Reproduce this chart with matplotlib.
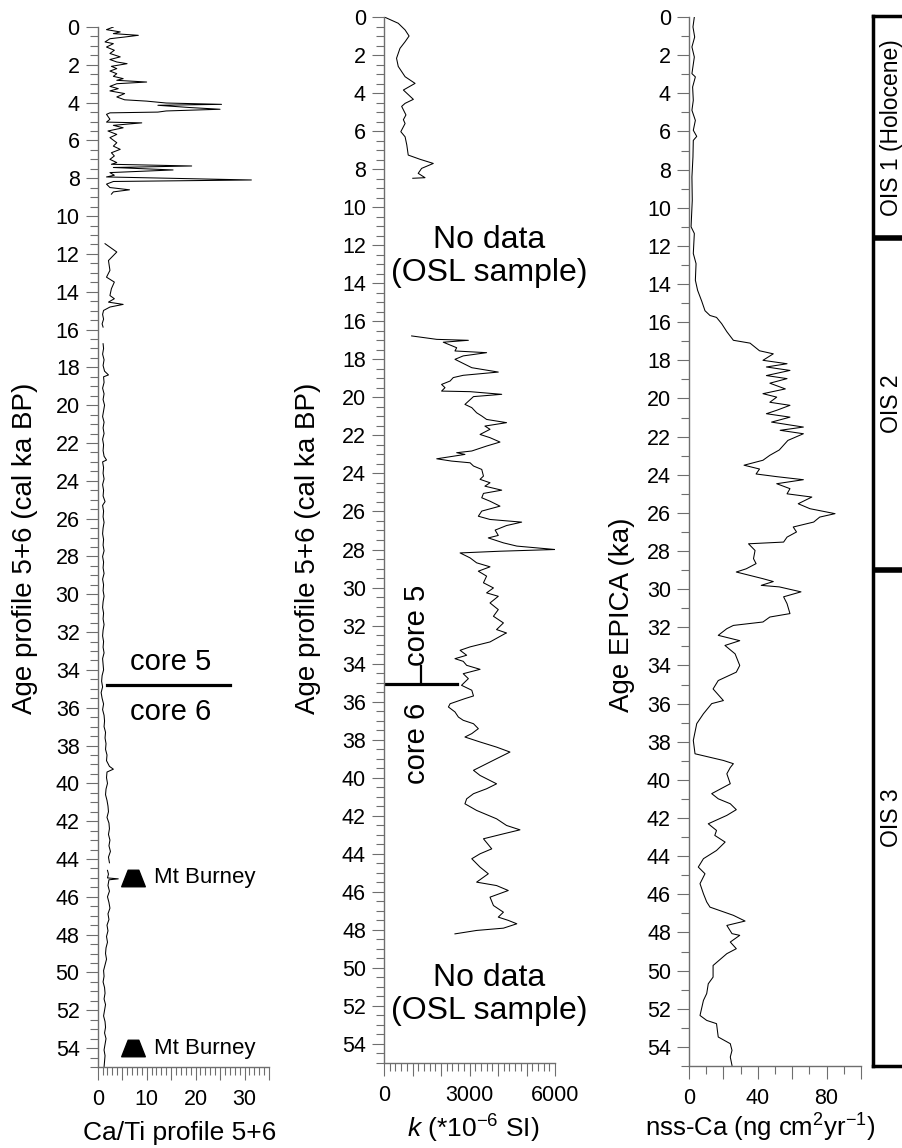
import numpy as np
import matplotlib
matplotlib.use('Agg')
import matplotlib.pyplot as plt
from matplotlib.path import Path
from matplotlib.ticker import MultipleLocator, FuncFormatter

plt.rcParams['font.family'] = ['Liberation Sans', 'DejaVu Sans']
plt.rcParams['mathtext.fontset'] = 'custom'
plt.rcParams['mathtext.rm'] = 'Liberation Sans'
plt.rcParams['mathtext.it'] = 'Liberation Sans:italic'

# ---- Ca/Ti profile 5+6 (age ka, value); nan = gap
cati_age = [0.0, 0.14, 0.26, 0.35, 0.44, 0.53, 0.62, 0.79, 0.88, 1.06, 1.23, 1.4, 1.58, 1.72, 1.85,
            1.94, 2.08, 2.2, 2.33, 2.47, 2.61, 2.73, 2.82, 2.91, 3.0, 3.14, 3.26, 3.38, 3.52, 3.7,
            3.85, 3.92, 4.02, 4.09, 4.14, 4.26, 4.35, 4.44, 4.5, 4.54, 4.62, 4.88, 5.03, 5.07, 5.2,
            5.33, 5.5, 5.68, 5.85, 6.12, 6.3, 6.47, 6.65, 6.82, 7.0, 7.17, 7.26, 7.35, 7.43, 7.56,
            7.7, 7.84, 7.93, 8.09, 8.17, 8.31, 8.49, 8.61, 8.72, 8.84,
            np.nan,
            11.46, 11.9, 12.35, 12.87, 13.23, 13.49, 13.84, 14.2, 14.37, 14.55, 14.67, 14.81, 14.99,
            15.2, 15.45, 15.7, 15.87,
            np.nan,
            16.75, 17.0, 17.3, 17.6, 17.9, 18.2, 18.4, 18.5, 18.8, 19.1, 19.4, 19.7, 20.0, 20.3,
            20.6, 20.9, 21.2, 21.5, 21.8, 22.1, 22.4, 22.7, 22.9, 23.0, 23.3, 23.6, 23.9, 24.2, 24.5,
            24.8, 25.1, 25.3, 25.6, 25.9, 26.2, 26.5, 26.8, 27.1, 27.4, 27.7, 28.0, 28.3, 28.6, 28.9,
            29.2, 29.5, 29.8, 30.1, 30.4, 30.7, 31.0, 31.3, 31.6, 31.9, 32.2, 32.5, 32.8, 33.1, 33.4,
            33.7, 34.0, 34.3, 34.6, 34.9, 35.2, 35.5, 35.8, 36.1, 36.4, 36.7, 37.0, 37.3, 37.6, 37.9,
            38.2, 38.5, 38.8, 39.1, 39.25, 39.4, 39.7, 40.0, 40.3, 40.6, 40.9, 41.2, 41.5, 41.8, 42.1,
            42.4, 42.7, 43.0, 43.3, 43.6, 43.9, 44.2,
            np.nan,
            44.6, 44.8, 45.0, 45.05, 45.1, 45.4, 45.7, 46.0, 46.3, 46.6, 46.9, 47.2, 47.5, 47.8,
            48.1, 48.4, 48.7, 49.0, 49.3, 49.6, 49.9, 50.2, 50.5, 50.8, 51.1, 51.4, 51.7, 52.0, 52.3,
            52.6, 52.9, 53.2, 53.5, 53.8, 54.1, 54.4, 54.7, 55.0]
cati_val = [3.2, 1.8, 4.6, 3.2, 8.3, 5.5, 2.5, 1.5, 3.2, 1.8, 3.4, 2.5, 4.6, 2.5, 3.9,
            6.0, 2.8, 3.9, 2.5, 3.9, 3.2, 5.2, 3.9, 10.0, 3.9, 2.5, 4.2, 2.5, 5.5, 3.9,
            5.5, 10.0, 14.0, 25.3, 12.3, 18.9, 25.0, 14.0, 12.3, 2.5, 1.8, 2.5, 1.8, 9.0, 3.2,
            5.2, 2.1, 3.9, 2.5, 3.9, 3.2, 4.6, 2.8, 3.4, 2.5, 3.9, 2.8, 19.2, 3.2, 15.4,
            2.5, 3.4, 1.8, 31.4, 3.2, 1.8, 2.5, 6.5, 3.2, 2.8,
            np.nan,
            1.5, 3.9, 2.2, 2.5, 1.8, 3.4, 2.8, 2.5, 3.4, 2.2, 5.2, 2.5, 1.2,
            1.0, 1.2, 0.9, 1.1,
            np.nan,
            1.1, 1.2, 1.0, 1.3, 1.1, 1.4, 2.2, 1.2, 1.3, 1.0, 1.3, 1.1, 1.4, 1.2,
            1.0, 1.3, 1.1, 1.3, 1.0, 1.2, 1.1, 1.3, 1.8, 1.0, 1.2, 1.1, 1.3, 1.0, 1.2,
            1.1, 1.5, 1.0, 1.2, 1.1, 1.3, 1.1, 1.0, 1.2, 1.1, 1.3, 1.0, 1.2, 1.1, 1.3,
            1.0, 1.2, 1.1, 1.3, 1.1, 1.0, 1.2, 1.1, 1.3, 1.1, 1.0, 1.2, 1.1, 1.3, 1.0,
            1.1, 1.2, 0.9, 0.8, 1.0, 0.7, 0.9, 1.2, 1.0, 1.3, 1.4, 1.3, 1.6, 1.5, 1.7,
            1.6, 1.9, 1.8, 2.4, 3.2, 1.9, 1.8, 2.0, 1.7, 1.6, 1.9, 2.1, 2.2, 1.9, 2.3,
            2.4, 2.2, 2.5, 2.3, 2.6, 2.2, 2.4,
            np.nan,
            2.0, 2.2, 2.0, 4.2, 2.3, 2.1, 2.4, 2.0, 2.3, 2.5, 2.1, 2.3, 1.9, 2.1,
            1.8, 2.0, 1.7, 1.6, 1.8, 1.5, 1.2, 1.3, 1.1, 1.4, 1.5, 1.3, 1.6, 1.4, 1.2,
            1.5, 1.6, 1.4, 1.7, 1.5, 1.3, 1.5, 1.4, 1.3]

# Mt Burney tephra
tephra_age = [45.0, 54.0]
tephra_x = [7.3, 7.3]

# ---- magnetic susceptibility k (*10^-6 SI)
k_age = [0.0, 0.33, 0.68, 1.0, 1.3, 1.65, 2.17, 2.6, 3.14, 3.49, 3.84, 4.33, 4.54, 4.7, 5.15,
         5.4, 5.6, 6.03, 6.3, 6.73, 7.26, 7.48, 7.7, 7.96, 8.22, 8.45, 8.48,
         np.nan,
         16.77, 16.95, 17.0, 17.1, 17.39, 17.56, 17.65, 17.82, 18.0, 18.17, 18.44, 18.67, 18.84,
         18.96, 19.14, 19.32, 19.49, 19.67, 19.7, 19.84, 19.96, 20.37, 20.54, 20.81, 20.98, 21.16,
         21.33, 21.51, 21.68, 21.95, 22.12, 22.35, 22.56, 22.82, 22.91, 23.0, 23.23, 23.35, 23.44,
         23.61, 23.79, 24.14, 24.31, 24.49, 24.67, 24.88, 25.05, 25.28, 25.46, 25.72, 25.98, 26.25,
         26.42, 26.56, 26.74, 26.98, 27.26, 27.39, 27.65, 27.82, 28.0, 28.09, 28.18, 28.44, 28.7,
         28.91, 29.14, 29.4, 29.75, 30.02, 30.28, 30.46, 30.81, 31.16, 31.51, 31.86, 32.21, 32.39,
         32.42, 32.86, 33.12, 33.3, 33.56, 33.74, 33.88, 34.09, 34.3, 34.53, 34.79, 35.14, 35.4,
         35.7, 35.84, 36.11, 36.28, 36.54, 36.81, 36.98, 37.16, 37.42, 37.68, 37.86, 38.12, 38.39,
         38.65, 39.0, 39.35, 39.61, 39.88, 40.32, 40.58, 40.84, 41.11, 41.37, 41.72, 42.16, 42.51,
         42.74, 42.95, 43.21, 43.74, 44.0, 44.26, 44.7, 45.05, 45.49, 45.67, 45.93, 46.28, 46.72,
         47.07, 47.33, 47.5, 47.68, 47.91, 48.03, 48.21]
k_val = [10, 500, 740, 880, 740, 560, 440, 500, 740, 1090, 680, 1030, 740, 620, 770,
         680, 740, 590, 740, 800, 850, 1260, 1730, 1320, 1200, 1440, 1010,
         np.nan,
         970, 1850, 2960, 2080, 2550, 2490, 3600, 2780, 2490, 2720, 3080, 4010, 2780,
         2430, 2320, 2020, 2140, 2020, 3020, 4130, 3140, 2840, 3080, 3250, 3430, 3600,
         4300, 3540, 3720, 3370, 3720, 4070, 3600, 3080, 2550, 2840, 1850, 2370, 3020,
         3140, 3430, 3490, 3370, 3720, 3540, 4130, 3490, 3430, 3720, 4070, 3430, 3310,
         3720, 4830, 4300, 3900, 4010, 3660, 4190, 4660, 6000, 4070, 2670, 3020, 3250,
         3720, 3310, 3600, 3490, 3840, 3600, 4010, 3720, 4010, 3840, 4190, 3950, 4300,
         4250, 3720, 3020, 2670, 2900, 2490, 2780, 2900, 3370, 2780, 2960, 2720, 3080,
         3140, 2840, 2320, 2260, 2490, 2610, 2780, 3140, 3310, 3080, 2840, 3370, 3950,
         4420, 3950, 3490, 3140, 3370, 3950, 3600, 3140, 2900, 2840, 3250, 3950, 4300,
         4770, 4190, 3490, 3780, 3370, 3080, 3370, 3660, 3250, 3950, 4360, 3720, 3840,
         4190, 4010, 4360, 4660, 4190, 3250, 2490]

# ---- EPICA nss-Ca flux (ng cm2 yr-1)
ca_age = [0.0, 0.52, 1.05, 1.57, 2.1, 2.97, 3.14, 3.67, 4.37, 4.89, 5.42, 5.94, 6.26, 6.47,
          7.34, 8.39, 9.61, 11.0, 11.35, 12.4, 12.93, 13.8, 14.33, 14.9, 15.4, 15.65, 15.75,
          16.08, 16.5, 16.95, 17.1, 17.5, 17.66, 18.0, 18.18, 18.35, 18.53, 18.8, 18.96, 19.2,
          19.5, 19.75, 19.93, 20.2, 20.36, 20.62, 20.8, 20.98, 21.24, 21.5, 21.67, 21.85, 22.2,
          22.7, 22.98, 23.24, 23.5, 23.7, 23.96, 24.1, 24.26, 24.47, 24.73, 25.0, 25.17, 25.52,
          25.78, 26.04, 26.22, 26.48, 26.74, 27.0, 27.27, 27.53, 27.62, 27.97, 28.4, 28.66, 28.93,
          29.1, 29.45, 29.6, 29.8, 29.88, 30.14, 30.4, 30.76, 31.28, 31.46, 31.72, 31.9, 32.07,
          32.42, 32.7, 32.95, 33.39, 34.0, 34.35, 34.79, 35.23, 35.84, 36.0, 36.53, 37.05, 37.93,
          38.63, 38.98, 39.15, 39.35, 39.68, 40.2, 40.72, 40.99, 41.25, 41.56, 41.86, 42.3, 42.65,
          42.91, 43.26, 43.7, 44.13, 44.57, 44.92, 45.44, 45.97, 46.4, 46.67, 47.1, 47.4, 47.63,
          48.06, 48.15, 48.5, 48.85, 49.11, 49.73, 50.34, 50.69, 51.2, 51.56, 52.35, 52.61, 52.78,
          53.48, 53.83, 54.18, 54.53, 54.97]
ca_val = [3.1, 2.3, 3.3, 1.7, 3.1, 1.7, 3.7, 2.1, 2.5, 1.7, 3.7, 2.5, 4.5, 2.5,
          2.3, 1.7, 1.9, 1.2, 3.1, 2.5, 4.1, 3.7, 5.0, 7.4, 9.3, 12.2, 16.0,
          19.0, 22.0, 25.8, 35.5, 41.0, 49.0, 43.0, 57.0, 45.0, 58.7, 45.0, 57.0, 47.0,
          56.0, 43.0, 51.0, 47.0, 58.7, 51.0, 45.0, 58.7, 48.0, 66.5, 53.0, 66.5, 57.5,
          52.5, 47.0, 43.0, 32.0, 41.0, 39.0, 51.0, 66.5, 51.0, 58.7, 57.0, 71.4, 63.5,
          70.3, 84.9, 76.0, 72.5, 60.6, 62.5, 57.0, 55.0, 34.6, 38.4, 37.5, 39.0, 33.3,
          27.5, 43.0, 49.0, 42.0, 52.5, 65.1, 55.0, 57.0, 58.7, 47.0, 43.0, 25.8, 22.0,
          17.0, 29.5, 20.9, 26.8, 29.5, 27.5, 17.0, 14.0, 20.0, 13.2, 8.4, 4.5, 2.5,
          3.5, 20.0, 25.8, 24.0, 22.0, 24.0, 13.2, 17.0, 24.0, 27.5, 22.0, 11.2, 16.0,
          15.0, 21.0, 16.0, 8.4, 5.4, 9.3, 6.4, 8.4, 10.3, 12.2, 25.8, 32.6, 22.0,
          25.0, 29.5, 24.0, 27.5, 22.0, 14.0, 14.0, 11.2, 10.3, 8.4, 6.4, 10.3, 16.0,
          17.0, 24.0, 25.0, 24.0, 25.0]

# OIS stages: boundaries (ka) and labels
ois_bounds = [0, 11.65, 29.0, 55]
ois_labels = ['OIS 1 (Holocene)', 'OIS 2', 'OIS 3']

W, H = 902, 1148
fig = plt.figure(figsize=(W / 100, H / 100), dpi=100)


def add_ax(left, right, top, bottom):
    return fig.add_axes([left / W, 1 - bottom / H, (right - left) / W, (bottom - top) / H])


axis_col = '#6e6e6e'


def style_ax(ax, xmax, xmajor, xminor, yminor, xlabels):
    ax.set_ylim(55, 0)
    ax.set_xlim(0, xmax)
    for s in ['top', 'right']:
        ax.spines[s].set_visible(False)
    for s in ['left', 'bottom']:
        ax.spines[s].set_color(axis_col)
        ax.spines[s].set_linewidth(1.0)
    ax.yaxis.set_major_locator(MultipleLocator(2))
    ax.yaxis.set_minor_locator(MultipleLocator(yminor))
    ax.xaxis.set_major_locator(MultipleLocator(xmajor))
    ax.xaxis.set_minor_locator(MultipleLocator(xminor))
    ax.xaxis.set_major_formatter(FuncFormatter(
        lambda v, p: '%d' % round(v) if any(abs(v - l) < 1e-6 for l in xlabels) else ''))
    ax.tick_params(which='major', direction='out', length=9, width=0.8, color=axis_col,
                   labelsize=15.5, pad=4)
    ax.tick_params(axis='x', which='major', pad=7)
    ax.tick_params(which='minor', direction='out', length=5.5, width=0.8, color=axis_col)
    ax.patch.set_alpha(0)


lw_data = 0.75

# ---- panel 1: Ca/Ti
ax1 = add_ax(97.7, 269, 27, 1067)
style_ax(ax1, 35, 5, 1, 0.5, [0, 10, 20, 30])
ax1.plot(cati_val, cati_age, color='k', lw=lw_data)
trap = Path([(-1, -0.7), (1, -0.7), (0.45, 0.7), (-0.45, 0.7), (-1, -0.7)],
            [Path.MOVETO, Path.LINETO, Path.LINETO, Path.LINETO, Path.CLOSEPOLY])
ax1.plot(tephra_x, tephra_age, ls='none', marker=trap, ms=17, color='k')
for a in tephra_age:
    ax1.text(11.5, a, 'Mt Burney', fontsize=16, va='center', ha='left')
ax1.plot([1.8, 27.1], [34.8, 34.8], color='k', lw=2.3)
ax1.text(15.0, 33.6, 'core 5', fontsize=21, ha='center', va='center')
ax1.text(15.0, 36.2, 'core 6', fontsize=21, ha='center', va='center')
fig.text(25 / W, 1 - 548 / H, 'Age profile 5+6 (cal ka BP)', rotation=90,
         fontsize=20, ha='center', va='center')
fig.text(180 / W, 1 - 1133 / H, 'Ca/Ti profile 5+6', fontsize=19, ha='center', va='center')

# ---- panel 2: k
ax2 = add_ax(384, 555, 17, 1063)
style_ax(ax2, 6000, 1000, 200, 0.5, [0, 3000, 6000])
ax2.plot(k_val, k_age, color='k', lw=lw_data)
ax2.plot([0, 2570], [35.05, 35.05], color='k', lw=2.3)
ax2.plot([1290, 1290], [34.1, 35.05], color='k', lw=1.6)
ax2.text(1150, 32.0, 'core 5', fontsize=21, rotation=90, ha='center', va='center')
ax2.text(1150, 38.2, 'core 6', fontsize=21, rotation=90, ha='center', va='center')
for a in [12.6, 51.4]:
    ax2.text(3680, a, 'No data\n(OSL sample)', fontsize=23, ha='center', va='center',
             linespacing=1.15)
fig.text(308 / W, 1 - 548 / H, 'Age profile 5+6 (cal ka BP)', rotation=90,
         fontsize=20, ha='center', va='center')
fig.text(473 / W, 1 - 1129 / H, r'$\mathit{k}$ (*10$^{-6}$ SI)', fontsize=19,
         ha='center', va='center')

# ---- panel 3: EPICA nss-Ca
ax3 = add_ax(689, 861, 17, 1066)
style_ax(ax3, 100, 20, 10, 1, [0, 40, 80])
ax3.plot(ca_val, ca_age, color='k', lw=lw_data)
fig.text(622 / W, 1 - 615 / H, 'Age EPICA (ka)', rotation=90,
         fontsize=20, ha='center', va='center')
fig.text(760 / W, 1 - 1128 / H, r'nss-Ca (ng cm$^{2}$yr$^{-1}$)', fontsize=18.5,
         ha='center', va='center')

# ---- OIS bar
ax4 = add_ax(873, 945, 16, 1066)
ax4.set_ylim(55, 0)
ax4.set_xlim(0, 1)
ax4.set_xticks([])
ax4.set_yticks([])
for s in ax4.spines.values():
    s.set_linewidth(2.5)
    s.set_color('k')
for b in ois_bounds[1:-1]:
    ax4.axhline(b, color='k', lw=4)
for i, lab in enumerate(ois_labels):
    mid = (ois_bounds[i] + ois_bounds[i + 1]) / 2
    ax4.text(0.26, mid, lab, rotation=90, fontsize=16.5, ha='center', va='center',
             transform=ax4.get_yaxis_transform())

fig.savefig('out.png', dpi=100)
